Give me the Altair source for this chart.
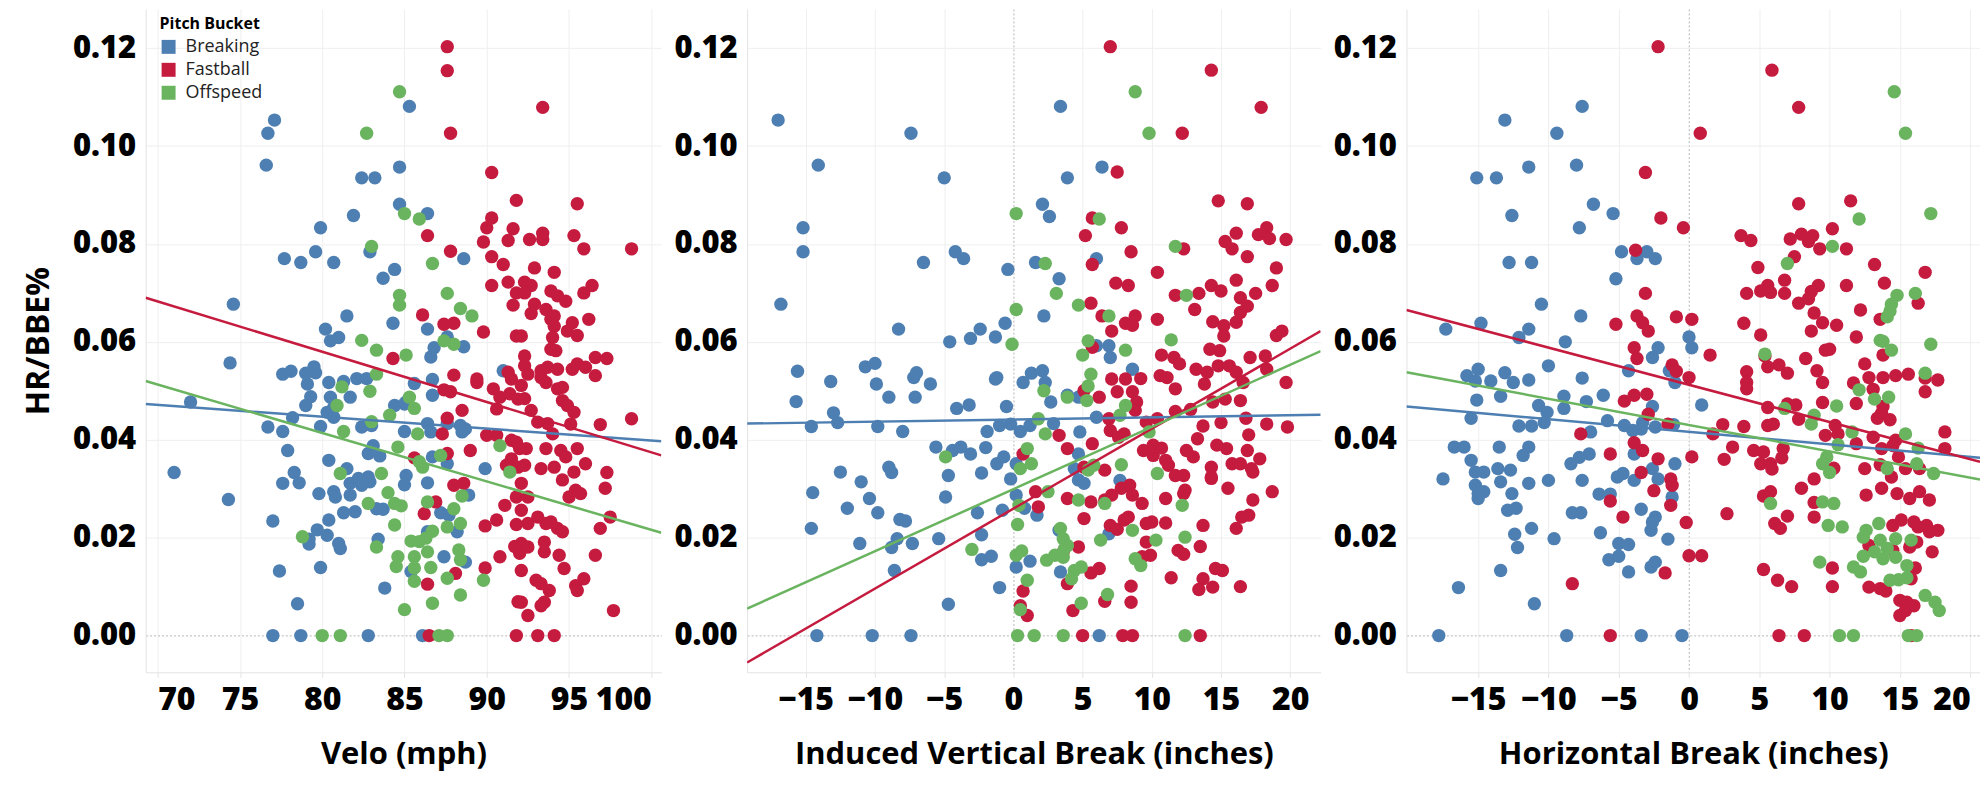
import altair as alt
import pandas as pd

BUCKETS = ["Breaking", "Fastball", "Offspeed"]
COLORS = ["#4e7fb2", "#c41b3f", "#6ab460"]
Y_TICKS = [0.0, 0.02, 0.04, 0.06, 0.08, 0.10, 0.12]
Y_DOMAIN = [-0.0075, 0.128]

# ---- panel 1: velo (mph) vs HR/BBE% ----
VELO_DOMAIN = [69.27, 100.61]
VELO_TICKS = [70, 75, 80, 85, 90, 95, 100]
VELO_BREAKING = [
    (85.3, .1081), (77.1, .1053), (76.7, .1026), (76.6, .0961), (84.7, .0957), (82.4, .0935), (83.2, .0935),
    (84.7, .0881), (86.4, .0862), (81.9, .0858), (79.9, .0833), (82.9, .0784), (79.6, .0784), (77.7, .0770),
    (78.7, .0762), (80.7, .0762), (88.6, .0770), (84.4, .0748), (83.7, .0730), (74.6, .0677), (81.5, .0653),
    (84.3, .0638), (80.2, .0626), (80.5, .0602), (81.0, .0609), (86.4, .0626), (86.6, .0569), (86.8, .0588),
    (87.6, .0610), (88.6, .0590), (74.4, .0557), (77.6, .0534), (78.1, .0540), (79.0, .0536), (79.5, .0549),
    (79.6, .0537), (79.1, .0514), (80.4, .0517), (81.3, .0519), (82.1, .0525), (82.7, .0525), (85.6, .0515),
    (86.7, .0523), (91.0, .0541), (79.3, .0488), (79.0, .0470), (80.5, .0487), (80.7, .0466), (80.3, .0456),
    (80.7, .0446), (81.7, .0487), (84.4, .0470), (85.0, .0473), (85.1, .0477), (86.7, .0491), (72.0, .0477),
    (78.2, .0445), (76.7, .0426), (77.6, .0417), (79.9, .0427), (82.4, .0426), (83.0, .0429), (85.0, .0417),
    (86.4, .0433), (86.6, .0416), (87.6, .0433), (88.4, .0429), (88.7, .0422), (88.5, .0416), (83.1, .0388),
    (82.8, .0372), (83.5, .0367), (77.9, .0378), (80.4, .0358), (86.7, .0365), (87.6, .0351), (89.9, .0341),
    (71.0, .0333), (78.3, .0333), (78.6, .0312), (77.6, .0311), (81.5, .0341), (81.7, .0311), (82.2, .0321),
    (82.4, .0307), (82.8, .0324), (82.9, .0314), (85.1, .0327), (85.0, .0308), (86.4, .0312), (79.8, .0290),
    (80.7, .0294), (80.8, .0283), (81.7, .0287), (88.9, .0287), (74.3, .0278), (83.3, .0259), (83.7, .0258),
    (81.3, .0251), (82.0, .0253), (87.2, .0251), (87.7, .0246), (77.0, .0234), (80.4, .0236), (79.7, .0216),
    (80.3, .0205), (86.4, .0212), (88.2, .0212), (79.2, .0197), (79.2, .0187), (81.0, .0188), (81.1, .0178),
    (83.4, .0197), (87.4, .0161), (88.7, .0150), (79.9, .0139), (77.4, .0132), (85.4, .0131), (83.8, .0097),
    (78.5, .0065), (77.0, 0), (78.7, 0), (82.8, 0), (86.1, 0),
]
VELO_FASTBALL = [
    (87.6, .1203), (87.6, .1154), (87.8, .1026), (90.3, .0946), (86.4, .0817), (90.0, .0833), (90.3, .0853),
    (91.8, .0889), (91.6, .0831), (91.3, .0807), (89.8, .0804), (87.8, .0785), (90.3, .0774), (91.0, .0758),
    (90.3, .0715), (91.3, .0722), (91.8, .0700), (91.6, .0675), (86.1, .0655), (87.4, .0636), (88.0, .0638),
    (89.8, .0620), (91.8, .0612), (84.3, .0566), (88.0, .0532), (89.4, .0517), (89.4, .0524), (91.3, .0538),
    (91.5, .0524), (90.4, .0504), (90.8, .0487), (91.4, .0494), (91.9, .0483), (87.8, .0498), (87.4, .0502),
    (88.5, .0460), (90.6, .0463), (87.6, .0444), (87.3, .0412), (90.0, .0409), (90.6, .0409), (91.5, .0399),
    (91.8, .0395), (92.0, .0382), (89.0, .0378), (85.6, .0363), (87.6, .0372), (91.5, .0361), (91.2, .0348),
    (91.9, .0344), (88.0, .0307), (88.6, .0311), (91.8, .0283), (86.9, .0273), (86.2, .0249), (91.1, .0266),
    (89.9, .0224), (90.6, .0236), (91.8, .0227), (91.7, .0182), (90.8, .0161), (92.0, .0168), (88.1, .0127),
    (89.9, .0138), (86.4, .0105), (91.9, .0069), (93.4, .1079), (95.5, .0882), (93.4, .0822), (92.6, .0809),
    (93.4, .0809), (95.3, .0817), (95.9, .0790), (98.8, .0790), (92.9, .0751), (94.1, .0742), (92.3, .0722),
    (92.7, .0715), (92.3, .0700), (93.9, .0704), (94.3, .0694), (94.8, .0683), (95.9, .0700), (96.4, .0715),
    (92.9, .0677), (92.7, .0658), (93.6, .0666), (93.9, .0646), (94.1, .0653), (94.1, .0632), (96.2, .0646),
    (95.2, .0639), (94.9, .0622), (95.5, .0613), (92.1, .0612), (94.0, .0609), (93.9, .0585), (94.2, .0582),
    (92.3, .0571), (92.3, .0551), (92.5, .0534), (93.3, .0541), (93.3, .0527), (93.7, .0548), (94.3, .0544),
    (93.6, .0517), (94.3, .0504), (94.6, .0507), (95.2, .0544), (95.5, .0555), (96.0, .0548), (96.6, .0568),
    (97.3, .0566), (96.6, .0531), (94.6, .0480), (94.9, .0470), (95.3, .0456), (95.1, .0432), (92.1, .0511),
    (92.3, .0484), (92.7, .0460), (93.1, .0436), (93.7, .0433), (94.0, .0412), (96.9, .0431), (98.8, .0443),
    (92.4, .0382), (93.6, .0382), (94.5, .0378), (95.5, .0382), (94.8, .0365), (92.3, .0348), (93.3, .0341),
    (94.1, .0344), (95.3, .0334), (96.0, .0351), (92.1, .0311), (92.5, .0283), (92.1, .0256), (92.5, .0229),
    (93.1, .0242), (93.6, .0229), (93.9, .0232), (94.3, .0219), (94.6, .0212), (94.6, .0318), (97.2, .0301),
    (97.3, .0333), (95.4, .0297), (95.7, .0290), (95.0, .0283), (97.5, .0242), (96.9, .0219), (96.6, .0164),
    (92.1, .0188), (92.5, .0181), (93.5, .0191), (93.5, .0171), (94.4, .0164), (94.7, .0137), (95.9, .0116),
    (95.4, .0102), (95.5, .0092), (92.1, .0133), (93.0, .0113), (93.3, .0106), (93.8, .0092), (93.5, .0068),
    (93.3, .0061), (92.1, .0068), (92.5, .0041), (97.7, .0051), (86.5, 0), (91.8, 0), (93.1, 0), (94.1, 0),
]
VELO_OFFSPEED = [
    (84.7, .1111), (82.7, .1026), (85.0, .0862), (85.9, .0851), (83.0, .0795), (86.7, .0760), (84.7, .0695),
    (84.7, .0675), (87.6, .0699), (88.4, .0668), (89.1, .0653), (82.4, .0603), (83.3, .0583), (85.1, .0573),
    (87.4, .0602), (88.0, .0595), (83.3, .0534), (81.2, .0508), (82.9, .0499), (80.9, .0470), (85.3, .0487),
    (85.6, .0464), (84.1, .0450), (81.3, .0417), (83.0, .0437), (85.8, .0412), (84.6, .0385), (85.9, .0355),
    (86.1, .0344), (87.2, .0368), (90.8, .0388), (91.4, .0334), (81.1, .0331), (83.6, .0331), (84.0, .0292),
    (88.5, .0285), (86.4, .0273), (82.8, .0270), (84.4, .0270), (84.8, .0265), (88.0, .0259), (84.4, .0226),
    (87.6, .0222), (88.4, .0229), (86.7, .0213), (78.8, .0202), (83.3, .0181), (85.4, .0193), (85.9, .0192),
    (86.3, .0199), (84.6, .0161), (85.6, .0161), (86.4, .0171), (88.3, .0175), (88.4, .0155), (84.5, .0141),
    (85.6, .0138), (86.6, .0139), (87.6, .0117), (89.8, .0113), (85.6, .0111), (88.4, .0083), (86.7, .0066),
    (85.0, .0053), (80.0, 0), (81.1, 0), (87.1, 0), (87.6, 0),
]
# trend line ends at the left and right edge of the axis
VELO_TREND = [("Breaking", .0473, .0397), ("Fastball", .0690, .0368), ("Offspeed", .0520, .0210)]

# ---- panel 2: induced vertical break ----
IVB_DOMAIN = [-19.24, 22.2]
IVB_TICKS = [-15, -10, -5, 0, 5, 10, 15, 20]
IVB_BREAKING = [
    (-17.0, .1053), (-7.4, .1026), (-14.1, .0961), (-5.0, .0935), (-15.2, .0833), (-15.2, .0784), (-6.5, .0762),
    (-4.2, .0784), (-3.6, .0770), (-0.4, .0748), (1.6, .0762), (-16.8, .0677), (-8.3, .0626), (-4.6, .0600),
    (-3.1, .0607), (-2.4, .0626), (-1.3, .0610), (-0.6, .0638), (-15.6, .0540), (-13.2, .0519), (-10.7, .0549),
    (-10.0, .0556), (-9.9, .0514), (-9.0, .0487), (-7.2, .0527), (-7.0, .0537), (-6.0, .0514), (-7.1, .0487),
    (-15.7, .0478), (-1.3, .0524), (-1.2, .0527), (0.7, .0517), (1.3, .0536), (-4.1, .0464), (-3.2, .0471),
    (-0.5, .0468), (-13.0, .0455), (-12.7, .0435), (-14.6, .0427), (-9.8, .0427), (-8.0, .0417), (-1.9, .0417),
    (-1.0, .0429), (-0.2, .0432), (0.5, .0417), (1.2, .0429), (-5.6, .0385), (-4.4, .0378), (-3.8, .0385),
    (-3.1, .0371), (-2.0, .0384), (-1.2, .0351), (-0.7, .0365), (0.2, .0351), (-12.5, .0334), (-9.0, .0344),
    (-8.8, .0333), (-11.0, .0314), (-4.7, .0327), (-2.3, .0332), (-0.2, .0320), (3.4, .1081), (6.4, .0957),
    (3.9, .0935), (2.1, .0881), (2.6, .0856), (6.0, .0770), (3.3, .0729), (2.2, .0653), (6.0, .0592),
    (6.9, .0592), (7.0, .0568), (2.1, .0541), (2.3, .0517), (8.6, .0544), (2.7, .0477), (3.9, .0491),
    (4.7, .0487), (6.0, .0446), (2.9, .0433), (4.8, .0416), (4.7, .0371), (4.4, .0341), (7.7, .0317),
    (-14.5, .0292), (-10.4, .0280), (-9.8, .0251), (-12.0, .0260), (-8.2, .0237), (-7.8, .0234), (-4.9, .0283),
    (-2.6, .0251), (-2.3, .0206), (0.2, .0287), (-0.8, .0256), (0.8, .0260), (1.7, .0246), (-14.6, .0219),
    (-11.1, .0188), (-8.8, .0180), (-8.4, .0198), (-7.3, .0188), (-5.4, .0198), (-2.3, .0155), (-1.6, .0162),
    (0.2, .0140), (1.2, .0152), (-8.6, .0133), (-1.0, .0098), (-4.7, .0064), (3.3, .0215), (3.4, .0130),
    (5.1, .0311), (4.7, .0318), (6.9, .0208), (-14.2, 0), (-10.2, 0), (-7.4, 0), (6.2, 0),
]
IVB_FASTBALL = [
    (0.7, .0371), (7.0, .1203), (14.3, .1155), (17.9, .1079), (12.2, .1026), (7.5, .0947), (14.8, .0888),
    (16.9, .0882), (5.7, .0853), (7.8, .0833), (5.2, .0817), (8.5, .0784), (12.3, .0790), (15.3, .0805),
    (15.8, .0790), (16.1, .0822), (17.7, .0819), (18.3, .0833), (18.5, .0811), (19.7, .0809), (16.9, .0774),
    (5.7, .0758), (10.4, .0742), (16.1, .0726), (19.0, .0751), (7.4, .0720), (8.3, .0715), (18.7, .0715),
    (11.7, .0695), (13.4, .0699), (14.3, .0715), (15.0, .0704), (16.4, .0690), (16.9, .0673), (17.5, .0699),
    (5.6, .0679), (6.4, .0653), (13.1, .0666), (10.4, .0646), (8.1, .0638), (8.8, .0653), (8.6, .0634),
    (7.1, .0622), (14.4, .0641), (15.2, .0633), (16.1, .0640), (16.4, .0660), (15.2, .0612), (19.0, .0613),
    (19.4, .0622), (5.7, .0589), (10.7, .0573), (11.6, .0568), (12.0, .0555), (14.2, .0585), (14.9, .0582),
    (17.1, .0568), (18.2, .0571), (13.2, .0544), (14.0, .0538), (14.8, .0551), (15.6, .0551), (16.1, .0538),
    (18.3, .0544), (19.7, .0517), (7.1, .0524), (8.1, .0524), (9.2, .0525), (10.6, .0531), (11.1, .0527),
    (5.1, .0500), (7.5, .0498), (8.6, .0498), (11.7, .0504), (13.8, .0514), (16.6, .0517), (6.2, .0487),
    (8.9, .0477), (8.8, .0460), (14.4, .0477), (15.3, .0483), (16.4, .0480), (11.7, .0458), (12.8, .0462),
    (6.9, .0443), (10.4, .0443), (16.8, .0444), (13.7, .0428), (15.0, .0435), (18.3, .0432), (19.8, .0426),
    (9.6, .0436), (7.0, .0419), (8.0, .0412), (7.6, .0405), (3.3, .0409), (17.0, .0410), (3.9, .0382),
    (5.7, .0392), (9.4, .0378), (10.1, .0389), (10.7, .0383), (12.5, .0378), (13.3, .0402), (14.7, .0389),
    (15.4, .0382), (16.9, .0378), (13.0, .0365), (14.3, .0344), (15.8, .0351), (16.4, .0351), (17.2, .0341),
    (17.8, .0361), (10.1, .0368), (11.0, .0358), (11.2, .0348), (6.6, .0338), (5.1, .0344), (11.7, .0327),
    (12.3, .0327), (14.3, .0324), (17.3, .0334), (0.7, .0091), (0.5, .0061), (1.0, .0041), (1.6, .0294),
    (1.8, .0263), (3.9, .0280), (5.6, .0273), (6.6, .0277), (7.1, .0287), (7.8, .0301), (8.4, .0307),
    (9.3, .0270), (8.6, .0287), (11.0, .0280), (12.3, .0290), (12.4, .0297), (14.3, .0321), (15.5, .0301),
    (17.3, .0277), (18.7, .0294), (5.1, .0239), (7.0, .0225), (7.5, .0217), (8.0, .0236), (8.3, .0242),
    (9.6, .0229), (10.0, .0232), (11.0, .0230), (13.7, .0225), (16.1, .0219), (16.5, .0242), (17.0, .0246),
    (4.7, .0181), (3.6, .0171), (9.6, .0191), (9.9, .0164), (9.3, .0161), (11.9, .0174), (12.3, .0166),
    (13.5, .0182), (5.6, .0128), (6.2, .0137), (3.9, .0106), (11.4, .0118), (13.7, .0116), (13.4, .0094),
    (14.4, .0099), (14.6, .0137), (15.1, .0133), (16.4, .0100), (8.5, .0101), (8.5, .0068), (6.6, .0070),
    (4.3, .0051), (5.0, 0), (7.9, 0), (8.6, 0), (13.5, 0),
]
IVB_OFFSPEED = [
    (0.2, .0862), (0.2, .0666), (-0.1, .0595), (-4.9, .0365), (1.0, .0382), (1.3, .0351), (0.5, .0341),
    (1.8, .0443), (8.8, .1111), (9.8, .1026), (6.2, .0851), (11.7, .0795), (2.3, .0760), (3.1, .0699),
    (4.7, .0675), (12.5, .0695), (6.9, .0653), (5.4, .0602), (5.0, .0573), (8.1, .0583), (11.4, .0604),
    (5.6, .0534), (5.4, .0510), (5.3, .0480), (3.9, .0487), (2.2, .0500), (8.1, .0470), (7.7, .0450),
    (2.3, .0412), (9.8, .0416), (7.8, .0349), (5.4, .0338), (5.8, .0348), (10.4, .0331), (0.4, .0266),
    (0.3, .0227), (-3.0, .0176), (0.2, .0164), (0.6, .0173), (1.0, .0113), (0.5, .0053), (2.5, .0294),
    (4.7, .0277), (6.6, .0270), (3.4, .0219), (3.6, .0198), (3.9, .0184), (3.7, .0178), (2.4, .0154),
    (3.0, .0164), (3.6, .0160), (6.3, .0195), (8.6, .0215), (8.8, .0157), (9.2, .0143), (10.3, .0195),
    (12.4, .0201), (4.4, .0133), (4.2, .0116), (4.9, .0140), (6.8, .0084), (4.9, .0066), (12.2, .0266),
    (0.3, 0), (1.5, 0), (3.6, 0), (12.4, 0),
]
IVB_TREND = [("Breaking", .0433, .0451), ("Fastball", -.0055, .0622), ("Offspeed", .0055, .0581)]

# ---- panel 3: horizontal break ----
HB_DOMAIN = [-20.1, 20.7]
HB_TICKS = [-15, -10, -5, 0, 5, 10, 15, 20]
HB_BREAKING = [
    (-13.1, .1053), (-9.4, .1026), (-11.4, .0957), (-15.1, .0935), (-13.7, .0935), (-12.6, .0858), (-12.8, .0762),
    (-11.2, .0762), (-10.5, .0677), (-17.3, .0626), (-14.8, .0638), (-12.1, .0609), (-11.4, .0626), (-10.0, .0551),
    (-15.8, .0531), (-15.0, .0544), (-15.2, .0520), (-14.1, .0520), (-13.1, .0537), (-12.5, .0517), (-11.4, .0522),
    (-15.1, .0481), (-13.4, .0489), (-15.5, .0444), (-10.7, .0470), (-10.1, .0456), (-10.3, .0435), (-12.1, .0428),
    (-11.2, .0428), (-16.7, .0385), (-16.0, .0385), (-13.5, .0385), (-11.4, .0385), (-11.8, .0368), (-15.5, .0358),
    (-15.2, .0334), (-14.6, .0334), (-13.6, .0341), (-12.7, .0338), (-17.5, .0320), (-10.0, .0317), (-7.6, .1081),
    (-8.0, .0961), (-6.8, .0881), (-5.4, .0862), (-7.8, .0833), (-4.8, .0784), (-3.7, .0770), (-3.0, .0784),
    (-2.4, .0770), (-5.2, .0729), (-7.7, .0653), (-8.8, .0600), (-2.6, .0568), (-2.2, .0588), (0.0, .0610),
    (0.2, .0588), (-7.6, .0526), (-4.3, .0541), (-1.4, .0541), (-1.0, .0517), (-6.1, .0491), (-7.3, .0478),
    (-8.9, .0489), (-8.9, .0464), (-2.6, .0468), (0.9, .0471), (-5.8, .0439), (-4.6, .0429), (-4.0, .0419),
    (-3.4, .0422), (-3.3, .0435), (-2.4, .0426), (-1.1, .0431), (-7.0, .0416), (-7.1, .0371), (-7.8, .0364),
    (-8.4, .0351), (-3.9, .0371), (-1.0, .0351), (-2.6, .0341), (-4.7, .0331), (-5.1, .0324), (-7.6, .0317),
    (-2.2, .0320), (-3.9, .0317), (-15.2, .0307), (-15.0, .0290), (-14.6, .0294), (-15.0, .0280), (-13.4, .0314),
    (-12.6, .0290), (-11.4, .0311), (-12.9, .0256), (-12.3, .0260), (-12.4, .0207), (-12.2, .0180), (-11.2, .0219),
    (-9.6, .0198), (-13.4, .0133), (-16.4, .0098), (-11.0, .0065), (-6.4, .0289), (-5.6, .0289), (-1.2, .0283),
    (-8.3, .0251), (-7.7, .0251), (-3.4, .0258), (-2.4, .0242), (-2.6, .0232), (-2.7, .0215), (-6.3, .0210),
    (-1.5, .0197), (-5.0, .0188), (-4.3, .0186), (-5.7, .0155), (-5.0, .0162), (-2.7, .0140), (-2.4, .0150),
    (-4.3, .0130), (-17.8, 0), (-8.7, 0), (-3.4, 0), (-0.5, 0),
]
HB_FASTBALL = [
    (-2.2, .1203), (5.9, .1155), (7.8, .1079), (0.8, .1026), (-3.1, .0946), (7.8, .0882), (11.5, .0888),
    (-2.0, .0853), (-0.4, .0833), (3.7, .0817), (4.4, .0807), (7.2, .0810), (8.0, .0820), (8.5, .0805),
    (8.8, .0817), (10.2, .0831), (-3.8, .0787), (7.5, .0774), (9.3, .0790), (11.2, .0790), (4.9, .0752),
    (13.2, .0758), (16.8, .0742), (6.8, .0726), (5.6, .0715), (9.2, .0715), (8.7, .0703), (11.2, .0715),
    (13.9, .0720), (-3.1, .0699), (4.1, .0699), (5.1, .0704), (5.8, .0701), (6.8, .0699), (7.8, .0679),
    (8.5, .0688), (16.3, .0679), (12.2, .0665), (-3.7, .0653), (-3.3, .0639), (-2.9, .0622), (-0.9, .0651),
    (0.2, .0646), (-5.2, .0636), (3.9, .0638), (8.9, .0659), (9.5, .0639), (8.7, .0622), (10.5, .0634),
    (13.6, .0646), (5.1, .0614), (11.9, .0610), (-3.9, .0588), (-3.7, .0566), (1.5, .0573), (9.7, .0583),
    (10.0, .0585), (8.3, .0566), (13.8, .0573), (5.4, .0571), (12.5, .0555), (-1.2, .0553), (-0.9, .0540),
    (0.0, .0527), (5.6, .0549), (6.4, .0553), (7.0, .0536), (4.1, .0539), (4.1, .0517), (4.1, .0504),
    (9.1, .0541), (9.5, .0517), (12.8, .0527), (13.1, .0503), (11.7, .0516), (13.8, .0527), (14.7, .0531),
    (15.6, .0534), (16.8, .0526), (17.7, .0522), (16.8, .0498), (-4.6, .0479), (-3.9, .0491), (-3.0, .0493),
    (9.5, .0476), (11.9, .0474), (5.6, .0466), (7.0, .0473), (7.6, .0471), (-2.9, .0452), (13.8, .0468),
    (13.7, .0454), (13.4, .0444), (14.3, .0441), (7.8, .0442), (5.6, .0429), (6.0, .0432), (-1.5, .0432),
    (-7.7, .0412), (1.7, .0412), (2.4, .0431), (3.9, .0427), (9.7, .0409), (10.4, .0429), (10.6, .0412),
    (13.1, .0405), (14.7, .0399), (14.5, .0388), (18.2, .0416), (-3.9, .0394), (-3.3, .0378), (3.1, .0385),
    (4.6, .0378), (5.3, .0375), (6.7, .0382), (6.6, .0363), (11.9, .0392), (13.7, .0382), (18.2, .0382),
    (14.9, .0365), (-5.6, .0371), (-2.2, .0361), (0.2, .0365), (2.5, .0360), (5.1, .0351), (5.8, .0351),
    (5.9, .0340), (10.3, .0342), (12.5, .0341), (13.6, .0349), (15.4, .0341), (16.4, .0341), (-3.4, .0333),
    (8.9, .0320), (14.4, .0324), (-1.3, .0320), (-1.2, .0307), (-2.5, .0296), (-1.3, .0266), (-5.6, .0275),
    (-4.7, .0242), (-0.2, .0231), (2.7, .0249), (0.0, .0163), (0.9, .0163), (-1.7, .0128), (-8.3, .0106),
    (5.3, .0285), (5.8, .0294), (8.0, .0301), (12.6, .0287), (13.7, .0301), (14.8, .0290), (15.7, .0280),
    (16.4, .0294), (17.1, .0277), (8.9, .0272), (8.9, .0242), (6.1, .0229), (6.5, .0219), (7.0, .0244),
    (14.5, .0225), (15.1, .0236), (16.0, .0232), (16.9, .0225), (17.7, .0215), (17.1, .0212), (16.3, .0222),
    (12.8, .0184), (14.5, .0174), (15.7, .0181), (16.2, .0191), (17.3, .0171), (5.3, .0135), (6.3, .0113),
    (7.3, .0100), (10.2, .0138), (10.2, .0100), (12.8, .0099), (13.6, .0096), (14.0, .0091), (16.1, .0138),
    (15.8, .0116), (15.0, .0072), (15.5, .0068), (16.0, .0061), (15.0, .0041), (15.4, .0051), (-5.6, 0),
    (6.4, 0), (8.2, 0), (15.8, 0),
]
HB_OFFSPEED = [
    (14.6, .1111), (15.4, .1026), (12.1, .0851), (17.2, .0862), (10.2, .0795), (7.0, .0760), (14.8, .0695),
    (16.1, .0699), (14.4, .0677), (14.3, .0663), (14.1, .0651), (13.6, .0603), (13.8, .0601), (14.4, .0583),
    (17.2, .0595), (5.4, .0575), (16.8, .0536), (12.1, .0502), (13.2, .0483), (14.2, .0487), (6.8, .0464),
    (10.5, .0469), (8.9, .0450), (8.7, .0432), (11.6, .0416), (15.4, .0412), (10.6, .0390), (16.3, .0383),
    (9.8, .0365), (9.5, .0351), (10.0, .0333), (14.1, .0341), (16.2, .0351), (17.4, .0331), (5.8, .0270),
    (9.5, .0273), (10.3, .0270), (9.9, .0225), (10.9, .0222), (13.5, .0229), (12.6, .0215), (12.4, .0201),
    (13.6, .0195), (14.7, .0198), (15.8, .0195), (14.1, .0178), (13.2, .0171), (12.4, .0162), (13.8, .0157),
    (14.7, .0160), (9.3, .0150), (11.7, .0140), (12.2, .0130), (15.5, .0143), (14.3, .0113), (14.9, .0114),
    (15.5, .0118), (16.8, .0082), (17.5, .0068), (17.8, .0051), (10.7, 0), (11.7, 0), (15.6, 0), (16.2, 0),
]
HB_TREND = [("Breaking", .0468, .0363), ("Fastball", .0665, .0355), ("Offspeed", .0538, .0319)]


def points_frame(groups):
    rows = []
    for bucket, pts in zip(BUCKETS, groups):
        rows += [{"bucket": bucket, "x": x, "hr": y} for x, y in pts]
    return pd.DataFrame(rows)


def trend_frame(trend, domain):
    rows = []
    for bucket, y0, y1 in trend:
        rows.append({"bucket": bucket, "x": domain[0], "hr": y0})
        rows.append({"bucket": bucket, "x": domain[1], "hr": y1})
    return pd.DataFrame(rows)


ZERO_DASH = {"condition": {"test": "datum.value === 0", "value": [2, 2]}, "value": []}
ZERO_COLOR = {"condition": {"test": "datum.value === 0", "value": "#b5b5b5"}, "value": "#efefef"}


def panel(groups, trend, domain, ticks, title, width, first):
    x = alt.X("x:Q", scale=alt.Scale(domain=domain, nice=False, zero=False),
              axis=alt.Axis(values=ticks, title=title, labelFlush=15, labelOverlap=False,
                            gridDash=ZERO_DASH, gridColor=ZERO_COLOR))
    y = alt.Y("hr:Q", scale=alt.Scale(domain=Y_DOMAIN, nice=False, zero=False),
              axis=alt.Axis(values=Y_TICKS, format=".2f", title="HR/BBE%" if first else None,
                            gridDash=ZERO_DASH, gridColor=ZERO_COLOR))
    if first:
        legend = alt.Legend(title="Pitch Bucket", orient="none", legendX=14, legendY=7,
                            titleFont="Open Sans", titleFontSize=16, titleFontWeight="bold",
                            titleColor="black", titlePadding=6, labelFont="Open Sans",
                            labelFontSize=18, labelColor="#222", labelOffset=8,
                            symbolType="square", symbolSize=196, symbolStrokeWidth=0,
                            symbolOpacity=1, rowPadding=5, padding=0)
    else:
        legend = None
    color = alt.Color("bucket:N", scale=alt.Scale(domain=BUCKETS, range=COLORS), legend=legend)

    dots = alt.Chart(points_frame(groups)).mark_circle(size=180, opacity=1).encode(
        x=x, y=y, color=color)
    lines = alt.Chart(trend_frame(trend, domain)).mark_line(strokeWidth=2.5, clip=True).encode(
        x=x, y=y, color=color, detail="bucket:N")
    return alt.layer(dots, lines).properties(width=width, height=665)


p1 = panel([VELO_BREAKING, VELO_FASTBALL, VELO_OFFSPEED], VELO_TREND, VELO_DOMAIN, VELO_TICKS,
           "Velo (mph)", 517, True)
p2 = panel([IVB_BREAKING, IVB_FASTBALL, IVB_OFFSPEED], IVB_TREND, IVB_DOMAIN, IVB_TICKS,
           "Induced Vertical Break (inches)", 575, False)
p3 = panel([HB_BREAKING, HB_FASTBALL, HB_OFFSPEED], HB_TREND, HB_DOMAIN, HB_TICKS,
           "Horizontal Break (inches)", 575, False)

chart = alt.hconcat(p1, p2, p3, spacing=86, bounds="flush").resolve_scale(
    color="independent"
).properties(
    padding={"left": 14, "top": 0, "right": 0, "bottom": 4}
).configure_view(
    strokeWidth=0
).configure_axis(
    domainColor="#e3e3e3", tickColor="#e3e3e3", labelColor="black", titleColor="black"
).configure_axisX(
    labelFont="Open Sans", labelFontSize=32, labelFontWeight=800, tickSize=5,
    labelPadding=7, titleFont="Open Sans", titleFontSize=31, titleFontWeight="bold", titlePadding=24
).configure_axisY(
    labelFont="Open Sans", labelFontSize=31, labelFontWeight=800, ticks=False,
    labelPadding=10, titleFont="Open Sans", titleFontSize=32, titleFontWeight="bold", titlePadding=17
)

chart.save("out.html", embed_options={"renderer": "svg", "actions": False})
